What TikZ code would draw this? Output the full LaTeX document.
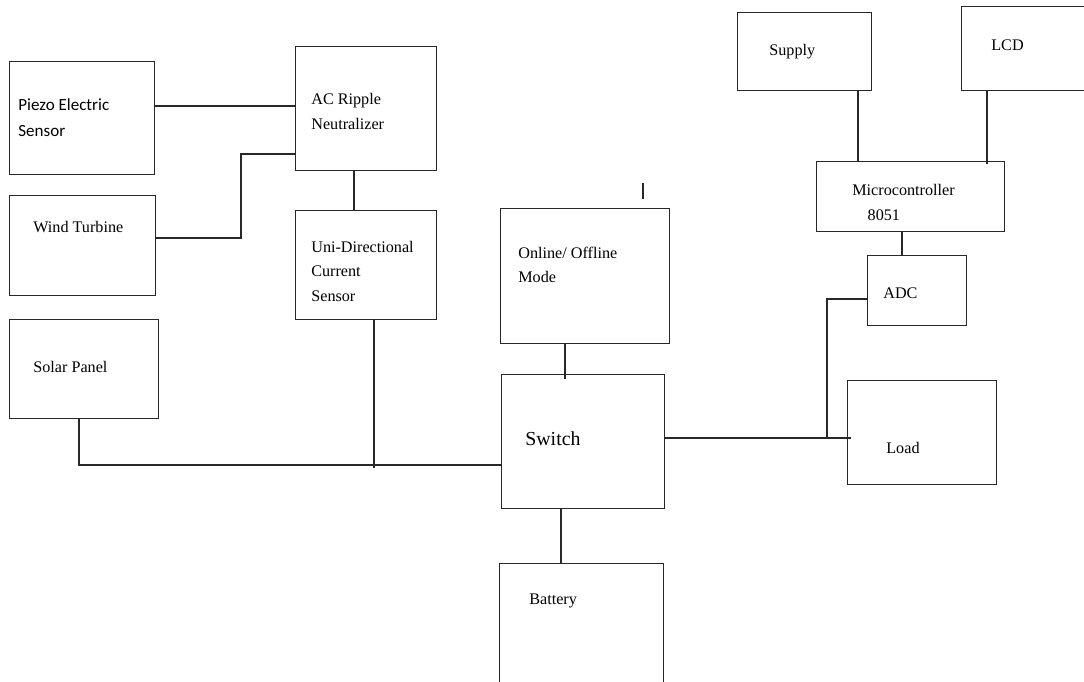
\documentclass[tikz,border=0pt]{standalone}
\usepackage{fontspec}
\setmainfont{Liberation Serif}
\newfontfamily\piezofont{Carlito}
\usetikzlibrary{calc}
\definecolor{myline}{RGB}{40,40,40}

\tikzset{
blk/.style 2 args={draw=myline, line width=0.8pt, minimum width=#1, minimum height=#2, anchor=north west, inner sep=0pt},
lbl/.style={anchor=base west, inner sep=0pt, align=left, font=\fontsize{9.2}{13.7}\selectfont},
wire/.style={draw=myline, line width=0.7pt}
}

\begin{document}
\begin{tikzpicture}[x=0.02cm, y=-0.02cm]
\useasboundingbox (0,0) rectangle (1084,681);
\clip (0,0) rectangle (1084,681);

% sources
\node[blk={2.9cm}{2.26cm}] (piezo) at (9,61) {};
\node[blk={2.92cm}{2.0cm}] (wind) at (9,195) {};
\node[blk={2.98cm}{1.98cm}] (solar) at (9,319) {};
\node[blk={2.82cm}{2.48cm}] (acr) at (295,46) {};
\node[blk={2.82cm}{2.18cm}] (uni) at (295,210) {};

% middle
\node[blk={3.38cm}{2.7cm}] (online) at (500,208) {};
\node[blk={3.26cm}{2.68cm}] (switch) at (501,374) {};
\node[blk={3.28cm}{2.5cm}] (battery) at (499,563) {};

% control side
\node[blk={2.68cm}{1.56cm}] (supply) at (737,12) {};
\node[blk={2.6cm}{1.68cm}] (lcd) at (961,6) {};
\node[blk={3.76cm}{1.4cm}] (micro) at (816,161) {};
\node[blk={1.98cm}{1.4cm}] (adc) at (867,255) {};
\node[blk={2.98cm}{2.08cm}] (load) at (847,380) {};

% labels (multi-line ones sit on their last line)
\node[lbl, font=\piezofont\fontsize{9.7}{14.8}\selectfont] (piezoT) at (18,136) {Piezo Electric\\Sensor};
\node[lbl] (windT) at (33,232.7) {Wind Turbine};
\node[lbl] (solarT) at (33,372.7) {Solar Panel};
\node[lbl] (acrT) at (311,129) {AC Ripple\\Neutralizer};
\node[lbl] (uniT) at (311,301) {Uni-Directional\\Current\\Sensor};
\node[lbl] (onlineT) at (518,282.3) {Online/ Offline\\Mode};
\node[lbl, font=\fontsize{11.3}{13.7}\selectfont] (switchT) at (525,445) {Switch};
\node[lbl] (batteryT) at (529,604) {Battery};
\node[lbl] (supplyT) at (769,55) {Supply};
\node[lbl] (lcdT) at (991,50) {LCD};
\node[lbl] (microT) at (852,220) {Microcontroller\\\hspace*{0.95em}8051};
\node[lbl] (adcT) at (883,298.3) {ADC};
\node[lbl] (loadT) at (886,453.3) {Load};

% connections
\draw[wire] (piezo.east |- 0,106) -- (acr.west |- 0,106);
\draw[wire] (wind.east |- 0,238) -| (241,154) -- (acr.west |- 0,154);
\draw[wire] (acr.south -| 354,0) -- (uni.north -| 354,0);
\draw[wire] (uni.south -| 374,0) -- (374,468);
\draw[wire] (solar.south -| 79,0) |- (switch.west |- 0,465);
\draw[wire] (online.south -| 565,0) -- (565,379);
\draw[wire] (switch.south -| 561,0) -- (battery.north -| 561,0);
\draw[wire] (switch.east |- 0,438) -- (851,438);
\draw[wire] (adc.west |- 0,299) -| (827,438);
\draw[wire] (micro.south -| 902,0) -- (adc.north -| 902,0);
\draw[wire] (supply.south -| 858,0) -- (micro.north -| 858,0);
\draw[wire] (lcd.south -| 987,0) -- (987,164);

% stray tick above the mode block
\coordinate (tickA) at (643,183);
\coordinate (tickB) at (643,199);
\draw[wire] (tickA) -- (tickB);
\end{tikzpicture}
\end{document}
